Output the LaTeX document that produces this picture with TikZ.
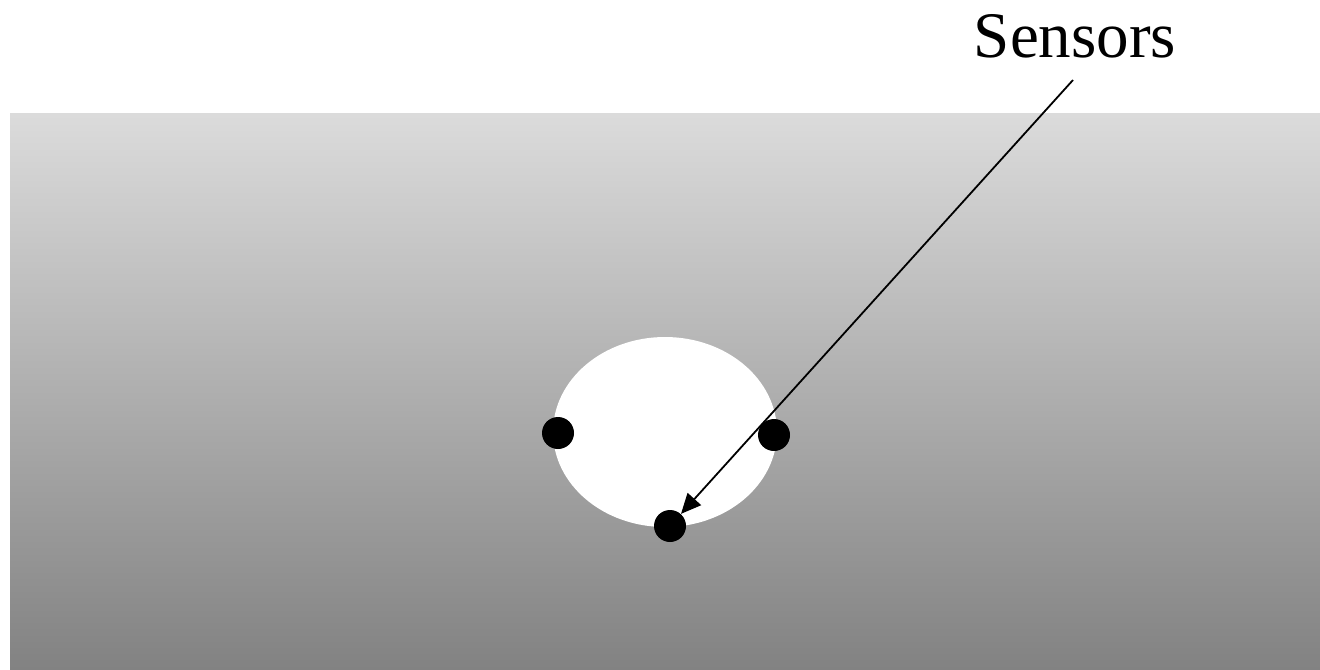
\documentclass[tikz,border=0pt]{standalone}
\usepackage{fontspec}
\newfontfamily\lblfont{LiberationSerif-Regular.ttf}
\usetikzlibrary{arrows.meta}
\definecolor{shadetop}{gray}{0.86}
\definecolor{shadebot}{gray}{0.51}

\begin{document}
\begin{tikzpicture}[x=0.5pt,y=-0.5pt,>={Triangle[length=10pt,width=9pt]},
  sensor/.style={circle,fill=black,inner sep=0pt,minimum size=16pt},
  flow/.style={->,line width=0.9pt}]
  \useasboundingbox (0,0) rectangle (1320,669);
  \shade[top color=shadetop,bottom color=shadebot] (10,113) rectangle (1320,669);
  \fill[white] (665,432) ellipse [x radius=112,y radius=95];
  \node[sensor] (s1) at (558,433) {};
  \node[sensor] (s2) at (774,435) {};
  \node[sensor] (s3) at (670,526) {};
  \node[anchor=base,inner sep=0pt,font={\lblfont\fontsize{32.5pt}{38pt}\selectfont}] (lbl) at (1075,57) {Sensors};
  \coordinate (tail) at (1073,80);
  \draw[flow] (tail) -- (s3);
\end{tikzpicture}
\end{document}
